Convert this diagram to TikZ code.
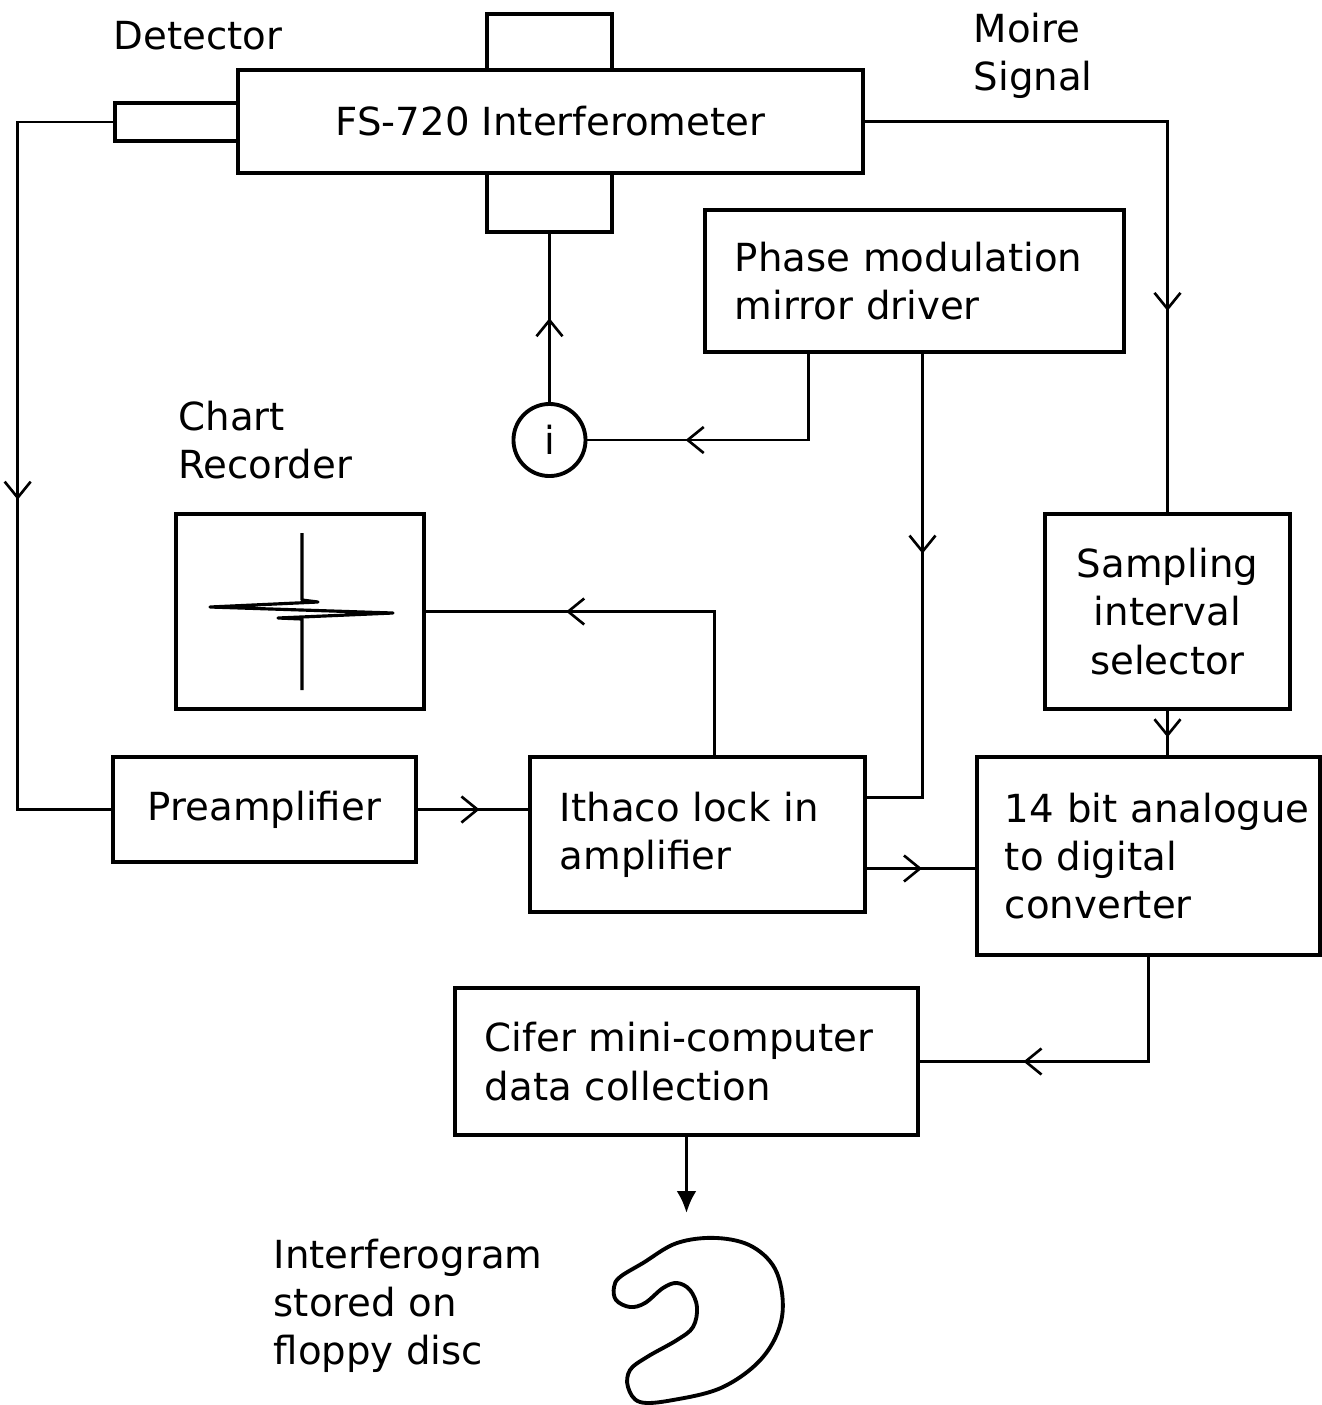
\documentclass[tikz,border=0pt]{standalone}
\usepackage{fontspec}
\setmainfont{DejaVu Sans}
\usetikzlibrary{positioning,calc,arrows.meta,decorations.markings}

\begin{document}
\hyphenpenalty=10000
\begin{tikzpicture}[x=0.01cm, y=-0.01cm,
        font = \fontsize{11}{13.7}\selectfont,
        block/.style = { rectangle, draw, line width = 1.3pt, inner sep = 0pt },
        lblock/.style = { block, align = left, inner xsep = 0.3cm },
        lbl/.style = { inner sep = 0pt, align = left, anchor = west },
        wire/.style = { line width = 0.75pt },
        marrow/.style = { wire, postaction = {decorate},
          decoration = { markings, mark = at position #1 with
            {\arrow{Straight Barb[length=0.16cm, width=0.26cm]}} } }
      ]
      \useasboundingbox (0,0) rectangle (1322,1405);

      % interferometer with its ports
      \node[block, minimum width=1.25cm, minimum height=0.56cm] (ifmT) at (549.5,42) {};
      \node[block, minimum width=1.25cm, minimum height=0.59cm] (ifmB) at (549.5,202.5) {};
      \node[block, minimum width=6.25cm, minimum height=1.03cm] (ifm) at (550.5,121.5) {FS-720 Interferometer};
      \node[block, minimum width=1.23cm, minimum height=0.38cm] (det) at (176.5,122) {};
      \node[lbl] (detl) at (113,36) {Detector};
      \node[lbl] (moire) at (973,56) {Moire\\Signal};

      \node[lblock, text width=3.59cm, minimum height=1.42cm] (pha) at (914.5,281) {Phase~modulation\\mirror~driver};
      \node[circle, draw, line width=1.1pt, minimum size=0.72cm, inner sep=0pt] (cur) at (549.5,440) {i};

      \node[lbl] (chartl) at (178,440) {Chart\\Recorder};
      \node[block, minimum width=2.48cm, minimum height=1.95cm] (chart) at (300,611.5) {};
      \draw[line width=0.9pt, line join=round] (302,533) -- (302,600) -- (318,602) -- (210,607)
        -- (393,613) -- (278,618) -- (302,619) -- (302,690);

      \node[block, align=center, minimum width=2.45cm, minimum height=1.95cm] (smp) at (1167.5,611.5) {Sampling\\interval\\selector};
      \node[block, minimum width=3.03cm, minimum height=1.05cm] (pre) at (264.5,809.5) {Preamplifier};
      \node[lblock, text width=2.75cm, minimum height=1.55cm] (ith) at (697.5,834.5) {Ithaco~lock~in\\amplifier};
      \node[lblock, inner xsep=0.28cm, text width=2.87cm, minimum height=1.98cm] (adc) at (1148.5,856) {14~bit~analogue\\to~digital\\converter};
      \node[lblock, text width=4.03cm, minimum height=1.47cm] (cif) at (686.5,1061.5) {Cifer~mini-computer\\data~collection};

      % signal paths
      \draw[marrow=0.54] (det.west) -- ++(-95,0) |- (pre.west);
      \draw[marrow=0.56] (pre.east) -- (pre.east -| ith.west);
      \draw[marrow=0.676] ($(ith.north)+(17,0)$) |- (chart.east);
      \draw[marrow=0.68] ($(pha.south)+(-106,0)$) |- (cur.east);
      \draw[marrow=0.5] (cur.north) -- (ifmB.south);
      \coordinate (ithP) at ($(ith.east)+(0,-37)$);
      \draw[marrow=0.4] ($(pha.south)+(8,0)$) |- (ithP);
      \draw[marrow=0.71] (ifm.east) -| (smp.north);
      \draw[marrow=0.6] (smp.south) -- (smp.south |- adc.north);
      \coordinate (ithA) at ($(ith.east)+(0,34)$);
      \draw[marrow=0.51] (ithA) -- (ithA -| adc.west);
      \draw[marrow=0.69] (adc.south) |- (cif.east);
      \coordinate (dsk) at (cif.south |- 0,1213);
      \draw[line width=1pt, -{Latex[length=0.22cm, width=0.2cm]}] (cif.south) -- (dsk);

      % floppy disc
      \node[lbl] (dskl) at (273,1306) {Interferogram\\stored on\\floppy disc};
      \draw[line width=1.1pt] plot[smooth cycle, tension=0.6] coordinates {
        (717,1238) (753,1247) (777,1273) (782,1317) (763,1357) (723,1387) (673,1400)
        (640,1402) (628,1387) (630,1370) (647,1357) (677,1340) (693,1327) (697,1307)
        (690,1290) (677,1283) (663,1288) (645,1303) (630,1307) (616,1300) (614,1287)
        (620,1277) (643,1263) (677,1243)};
\end{tikzpicture}
\end{document}
